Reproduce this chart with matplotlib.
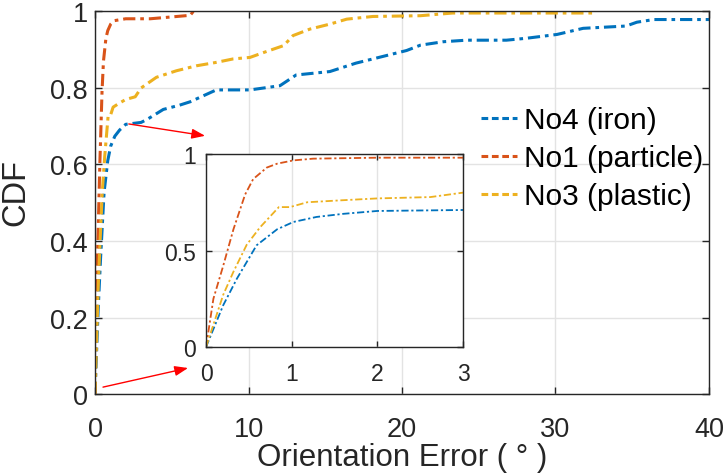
import matplotlib
matplotlib.use("Agg")
import matplotlib.pyplot as plt
from matplotlib.lines import Line2D

plt.rcParams['font.family'] = ['Liberation Sans', 'DejaVu Sans']

# Empirical CDF of orientation error (degrees) for each sample
iron_x = [0, 0.2, 0.36, 0.59, 0.83, 1.02, 1.29, 1.6, 2.0, 3.0, 3.4, 4.45, 5.5, 6.2,
          7.9, 10.1, 12.05, 13.1, 15.3, 17.0, 19.2, 20.3, 21.2, 22.7, 24.2, 26.8,
          28.1, 30.1, 31.8, 34.6, 35.3, 36.4, 40]
iron_y = [0, 0.216, 0.354, 0.527, 0.61, 0.648, 0.674, 0.69, 0.705, 0.71, 0.718, 0.744,
          0.755, 0.764, 0.795, 0.795, 0.806, 0.834, 0.843, 0.865, 0.887, 0.898, 0.912,
          0.921, 0.925, 0.925, 0.93, 0.94, 0.956, 0.962, 0.972, 0.979, 0.979]

particle_x = [0, 0.086, 0.2, 0.32, 0.456, 0.55, 0.71, 0.83, 1.02, 1.25, 2.0, 3.0,
              3.6, 6.2, 6.4]
particle_y = [0, 0.25, 0.42, 0.61, 0.79, 0.87, 0.93, 0.95, 0.967, 0.976, 0.981, 0.981,
              0.981, 0.99, 1.0]

plastic_x = [0, 0.2, 0.32, 0.475, 0.63, 0.85, 0.98, 1.18, 1.57, 2.0, 2.62, 3.0, 4.0,
             5.3, 6.6, 7.9, 9.0, 10.1, 11.0, 12.3, 12.9, 14.0, 15.3, 16.4, 18.1, 21.2,
             23.3, 32.7]
plastic_y = [0, 0.27, 0.39, 0.53, 0.62, 0.725, 0.725, 0.75, 0.76, 0.77, 0.777, 0.80,
             0.828, 0.845, 0.858, 0.867, 0.876, 0.88, 0.893, 0.911, 0.937, 0.954, 0.967,
             0.98, 0.987, 0.989, 0.996, 0.996]

labels = ['No4 (iron)', 'No1 (particle)', 'No3 (plastic)']
colors = ['#0072BD', '#D95319', '#EDB120']
series = [(iron_x, iron_y), (particle_x, particle_y), (plastic_x, plastic_y)]

main_xticks = [0, 10, 20, 30, 40]
main_yticks = [0, 0.2, 0.4, 0.6, 0.8, 1]
inset_xticks = [0, 1, 2, 3]
inset_yticks = [0, 0.5, 1]

tick_col = '#262626'
grid_col = '#e3e3e3'
dashdot = (0, (4, 1.6, 1.2, 1.6))


def style_axes(ax, fs, xpad, ypad, length):
    ax.grid(True, color=grid_col, linewidth=1.0)
    ax.set_axisbelow(True)
    for s in ax.spines.values():
        s.set_color(tick_col)
        s.set_linewidth(1.0)
    ax.tick_params(direction='in', top=True, right=True, colors=tick_col,
                   labelsize=fs, length=length, width=1.0)
    ax.tick_params(axis='x', pad=xpad)
    ax.tick_params(axis='y', pad=ypad)


fig = plt.figure(figsize=(7.27, 4.77), dpi=100)
ax = fig.add_axes([0.1307, 0.1719, 0.8445, 0.8019])

for (x, y), c in zip(series, colors):
    ax.plot(x, y, color=c, linewidth=2.2, linestyle=dashdot)

ax.set_xlim(0, 40)
ax.set_ylim(0, 1)
ax.set_xticks(main_xticks)
ax.set_yticks(main_yticks)
ax.set_yticklabels(['0', '0.2', '0.4', '0.6', '0.8', '1'])
style_axes(ax, 19.5, xpad=16, ypad=5, length=5)
ax.set_xlabel('Orientation Error ( ° )', fontsize=22.5, color=tick_col, labelpad=0)
ax.set_ylabel('CDF', fontsize=23.5, color=tick_col)
ax.yaxis.set_label_coords(-0.103, 0.53)

handles = [Line2D([], [], color=c, linewidth=2.2, linestyle=(0, (2.2, 1.2)))
           for c in colors]
ax.legend(handles, labels, loc='upper left', bbox_to_anchor=(0.629, 0.752),
          frameon=False, fontsize=21.5, handlelength=1.2, handletextpad=0.25,
          labelspacing=0.33, borderaxespad=0, borderpad=0)

# Pointer arrows from the main curves to the zoomed view
arrow = dict(arrowstyle='-|>,head_length=0.8,head_width=0.3', color='red', lw=1.0,
             shrinkA=0, shrinkB=0)
ax.annotate('', xy=(7.17, 0.675), xytext=(2.2, 0.706), arrowprops=arrow)
ax.annotate('', xy=(6.06, 0.068), xytext=(0.52, 0.018), arrowprops=arrow)

ins = fig.add_axes([0.2834, 0.2704, 0.3535, 0.4046])
ins.set_facecolor('white')
for (x, y), c in zip(series, colors):
    ins.plot(x, y, color=c, linewidth=1.3, linestyle=(0, (4, 1.5, 1.2, 1.5)))
ins.set_xlim(0, 3)
ins.set_ylim(0, 1)
ins.set_xticks(inset_xticks)
ins.set_yticks(inset_yticks)
ins.set_yticklabels(['0', '0.5', '1'])
style_axes(ins, 16.5, xpad=11, ypad=7, length=4)

fig.savefig('out.png', dpi=100)
